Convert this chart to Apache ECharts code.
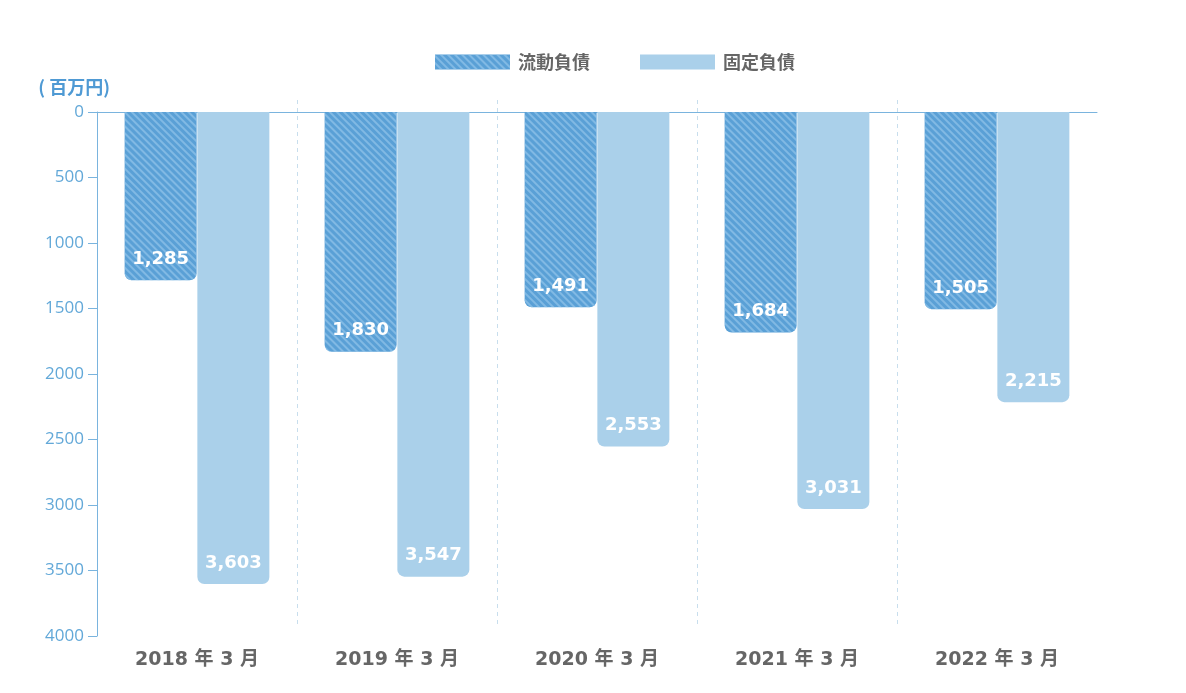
<!DOCTYPE html>
<html><head><meta charset="utf-8">
<script src="https://cdn.jsdelivr.net/npm/echarts@6/dist/echarts.min.js"></script>
<style>html,body{margin:0;padding:0;background:#fff}#c{width:1186px;height:693px}</style>
</head><body><div id="c"></div>
<script>
const categories = ['2018 年 3 月','2019 年 3 月','2020 年 3 月','2021 年 3 月','2022 年 3 月'];
const currentLiabilities = [1285, 1830, 1491, 1684, 1505];
const fixedLiabilities = [3603, 3547, 2553, 3031, 2215];
const seriesNames = ['流動負債','固定負債'];
const yTicks = [0, 500, 1000, 1500, 2000, 2500, 3000, 3500, 4000];

const chart = echarts.init(document.getElementById('c'));
const fmt = p => p.value.toLocaleString('en-US');
const labelStyle = {show:true, position:'insideBottom', distance:12, color:'#fff', fontSize:18, fontWeight:'bold', fontFamily:'DejaVu Sans, sans-serif', formatter: fmt};
chart.setOption({
  animation:false,
  legend:{top:48, left:430, itemWidth:75, itemHeight:15, itemGap:50, icon:'rect',
    textStyle:{color:'#666', fontSize:18, fontWeight:'bold', fontFamily:'Noto Sans CJK JP', padding:[0,0,0,3]},
    data:seriesNames},
  grid:[{left:97, right:89, top:112, bottom:57},{left:97, right:89, top:100, bottom:68}],
  xAxis:[
    {type:'category', data:categories, position:'bottom', gridIndex:0,
     axisLine:{show:false}, axisTick:{show:false},
     axisLabel:{color:'#666', fontSize:19, fontWeight:'bold', margin:15, fontFamily:'DejaVu Sans, Noto Sans CJK JP'},
     splitLine:{show:false}},
    {type:'category', data:categories, position:'top', gridIndex:0,
     axisLine:{show:true, lineStyle:{color:'#7ab4de', width:1}}, axisTick:{show:false}, axisLabel:{show:false}},
    {type:'category', data:categories, gridIndex:1,
     axisLine:{show:false}, axisTick:{show:false}, axisLabel:{show:false},
     splitLine:{show:true, showMinLine:false, showMaxLine:false, lineStyle:{color:'#c8deed', type:[4,4], width:1}}}
  ],
  yAxis:[{type:'value', inverse:true, min:0, max:4000, interval:500, gridIndex:0,
    name:'( 百万円)', nameLocation:'start', nameGap:16,
    nameTextStyle:{color:'#4f9ad4', fontSize:18, fontWeight:'bold', align:'right', padding:[0,-13,0,0], fontFamily:'Noto Sans CJK JP'},
    axisLine:{show:true, lineStyle:{color:'#7ab4de', width:1}},
    axisTick:{show:true, length:9, lineStyle:{color:'#7ab4de'}},
    axisLabel:{color:'#62a8d8', fontSize:17, margin:13, fontFamily:'Open Sans, sans-serif', formatter: v => String(v)},
    splitLine:{show:false}},
    {type:'value', gridIndex:1, show:false, min:0, max:1, splitLine:{show:false}}],
  series:[
    {name:seriesNames[0], type:'bar', data:currentLiabilities, barWidth:72, barGap:'1%', xAxisIndex:0, yAxisIndex:0,
     itemStyle:{color:'#5aa0d6', borderRadius:[0,0,7,7],
       decal:{symbol:'rect', symbolSize:1, dashArrayX:[1,0], dashArrayY:[2,3], rotation:Math.PI/4, color:'rgba(160,205,238,0.55)'}},
     label:labelStyle},
    {name:seriesNames[1], type:'bar', data:fixedLiabilities, barWidth:72, xAxisIndex:0, yAxisIndex:0,
     itemStyle:{color:'#aad0ea', borderRadius:[0,0,7,7]},
     label:labelStyle}
  ]
});
</script></body></html>
